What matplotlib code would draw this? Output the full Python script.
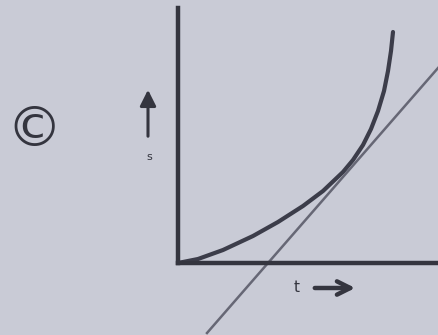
import matplotlib
matplotlib.use("Agg")
import matplotlib.pyplot as plt

# displacement-time curve (s against t), rising ever more steeply
t_curve = [0, 0.2, 0.45, 0.75, 1.0, 1.25, 1.45, 1.65, 1.75, 1.85, 1.93,
           2.0, 2.06, 2.1, 2.13, 2.15]
s_curve = [0, 0.04, 0.13, 0.27, 0.41, 0.57, 0.72, 0.91, 1.03, 1.18, 1.34,
           1.52, 1.72, 1.92, 2.12, 2.31]

# straight line drawn against the curve
t_line = [0.29, 2.60]
s_line = [-0.70, 1.95]

paper = "#c9cbd6"
ink = "#34353f"

fig = plt.figure(figsize=(4.39, 3.35), dpi=100, facecolor=paper)
ax = fig.add_axes([0, 0, 1, 1])
ax.set_facecolor(paper)
ax.set_xlim(-1.78, 2.61)
ax.set_ylim(-0.72, 2.63)

# axes drawn as spines through the origin
for side in ("top", "right"):
    ax.spines[side].set_visible(False)
ax.spines["left"].set_position(("data", 0))
ax.spines["bottom"].set_position(("data", 0))
ax.spines["left"].set_bounds(0, 2.55)
ax.spines["bottom"].set_bounds(0, 2.61)
for side in ("left", "bottom"):
    ax.spines[side].set_linewidth(3.2)
    ax.spines[side].set_color(ink)
ax.set_xticks([])
ax.set_yticks([])

ax.plot(t_curve, s_curve, color="#3c3d4a", lw=3.0, solid_capstyle="round",
        solid_joinstyle="round")
ax.plot(t_line, s_line, color="#666775", lw=1.8)

# axis labels with arrows
ax.annotate("", xy=(-0.30, 1.76), xytext=(-0.30, 1.24),
            arrowprops=dict(arrowstyle="-|>", color=ink, lw=2.2, mutation_scale=24))
ax.text(-0.29, 1.06, "s", color=ink, fontsize=8, ha="center", va="center")
ax.annotate("", xy=(1.80, -0.25), xytext=(1.34, -0.25),
            arrowprops=dict(arrowstyle="->", color=ink, lw=3.2, mutation_scale=24))
ax.text(1.19, -0.25, "t", color=ink, fontsize=11, ha="center", va="center")

ax.text(-1.44, 1.32, "©", color=ink, fontsize=40, ha="center", va="center")

fig.savefig("out.png", dpi=100, facecolor=paper)
